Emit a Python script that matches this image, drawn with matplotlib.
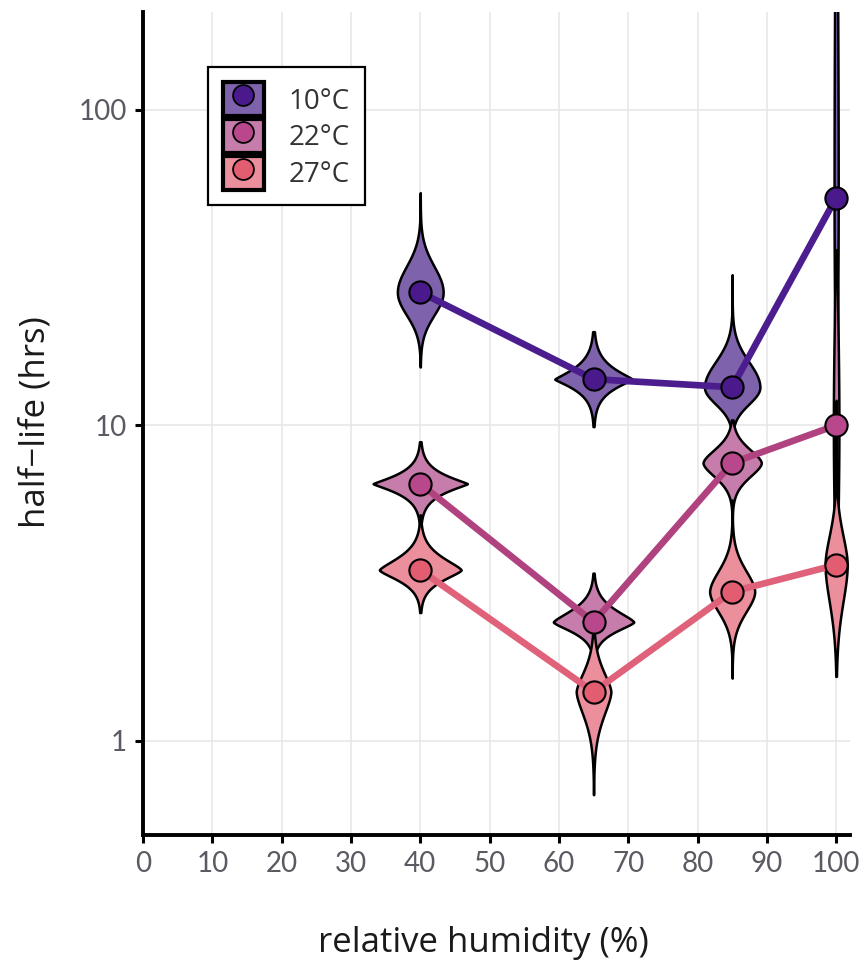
import numpy as np
import matplotlib
matplotlib.use("Agg")
import matplotlib.pyplot as plt
from matplotlib.patches import Patch
from matplotlib.lines import Line2D
from matplotlib.legend_handler import HandlerTuple

# ---------------- data ----------------
humidity = [40, 65, 85, 100]
temp_labels = ["10°C", "22°C", "27°C"]

# median half-life (hrs)
hl_10C = [26.4, 14.0, 13.2, 52.6]
hl_22C = [6.53, 2.38, 7.6, 10.0]
hl_27C = [3.48, 1.43, 2.97, 3.61]

# violin extent (lower / upper tip, hrs)
lo_10C = [15.3, 9.9, 9.0, 3.0]
hi_10C = [54.6, 19.8, 30.0, 1000.0]
lo_22C = [4.67, 1.72, 4.25, 1.94]
hi_22C = [8.87, 3.40, 10.4, 36.0]
lo_27C = [2.55, 0.675, 1.58, 1.6]
hi_27C = [5.2, 2.25, 5.8, 12.0]

# violin max half-width (x units), spread (decades) above / below, and profile exponent
w_10C = [3.3, 5.6, 4.0, 0.3]
w_22C = [6.8, 5.8, 4.2, 0.4]
w_27C = [5.9, 2.5, 3.25, 1.6]
sup_10C = [0.082, 0.028, 0.080, 0.8]
sdn_10C = [0.072, 0.025, 0.053, 0.45]
sup_22C = [0.023, 0.034, 0.043, 0.35]
sdn_22C = [0.023, 0.027, 0.044, 0.35]
sup_27C = [0.035, 0.061, 0.067, 0.095]
sdn_27C = [0.029, 0.074, 0.065, 0.12]
pw_10C = [2.0, 1.2, 2.0, 2.0]
pw_22C = [1.2, 1.4, 1.7, 2.0]
pw_27C = [1.4, 1.6, 1.8, 1.8]

x_ticks = [0, 10, 20, 30, 40, 50, 60, 70, 80, 90, 100]
y_ticks = [1, 10, 100]
y_ticklabels = ["1", "10", "100"]

# ---------------- style ----------------
line_colors = ["#4b1d8e", "#b0437f", "#e0627a"]
point_colors = ["#4a1a8c", "#b8478c", "#e35d71"]
fill_colors = ["#7e62ab", "#c67dab", "#eb8f9c"]

label_font = ["Open Sans", "DejaVu Sans"]
tick_font = ["Lato", "DejaVu Sans"]

fig = plt.figure(figsize=(8.66, 9.76), dpi=100)
ax = fig.add_axes([143 / 866, 1 - 835 / 976, (850 - 143) / 866, (835 - 12) / 976])
ax.set_yscale("log")
ax.set_xlim(0, 102)
ax.set_ylim(0.503, 204)

series = [
    (hl_10C, lo_10C, hi_10C, w_10C, sup_10C, sdn_10C, pw_10C),
    (hl_22C, lo_22C, hi_22C, w_22C, sup_22C, sdn_22C, pw_22C),
    (hl_27C, lo_27C, hi_27C, w_27C, sup_27C, sdn_27C, pw_27C),
]

# violins
for si, (med, lo, hi, W, su, sd, pw) in enumerate(series):
    for x0, m, l, h, w, a, b, p in zip(humidity, med, lo, hi, W, su, sd, pw):
        t = np.linspace(np.log10(l), np.log10(h), 800)
        d = t - np.log10(m)
        s = np.where(d > 0, a, b)
        half = w * np.exp(-0.5 * np.abs(d / s) ** p)
        ax.fill_betweenx(10 ** t, x0 - half, x0 + half, facecolor=fill_colors[si],
                         edgecolor="black", linewidth=1.8, zorder=3 + si * 0.1)

# lines
for si, ser in enumerate(series):
    ax.plot(humidity, ser[0], color=line_colors[si], lw=4.8, solid_capstyle="round", zorder=5)

# points
for si, ser in enumerate(series):
    ax.plot(humidity, ser[0], linestyle="none", marker="o", markersize=16,
            markerfacecolor=point_colors[si], markeredgecolor="black",
            markeredgewidth=1.5, zorder=6)

# axes styling
for sp in ["top", "right"]:
    ax.spines[sp].set_visible(False)
for sp in ["left", "bottom"]:
    ax.spines[sp].set_linewidth(2.8)
    ax.spines[sp].set_color("black")
ax.set_xticks(x_ticks)
ax.set_xticklabels([str(v) for v in x_ticks])
ax.set_yticks(y_ticks)
ax.set_yticklabels(y_ticklabels)
ax.yaxis.set_minor_locator(matplotlib.ticker.NullLocator())
ax.tick_params(axis="both", which="major", length=5.5, width=2.2, color="black",
               labelsize=20, labelcolor="#5a5a62", pad=6)
for lab in ax.get_xticklabels() + ax.get_yticklabels():
    lab.set_family(tick_font)
ax.grid(True, which="major", color="#e6e6e6", lw=1.1, zorder=0)
ax.set_axisbelow(True)

ax.set_xlabel("relative humidity (%)", fontsize=25, family=label_font, color="#1a1a1a")
ax.set_ylabel("half\u2212life (hrs)", fontsize=25, family=label_font, color="#1a1a1a")
ax.xaxis.set_label_coords(0.481, -0.11)
ax.yaxis.set_label_coords(-0.128, 0.502)

# legend
handles = []
for si in range(3):
    handles.append((Patch(facecolor=fill_colors[si], edgecolor="black", linewidth=3),
                    Line2D([], [], linestyle="none", marker="o", markersize=15,
                           markerfacecolor=point_colors[si], markeredgecolor="black",
                           markeredgewidth=1.3)))
leg = ax.legend(handles, temp_labels, loc="upper left", bbox_to_anchor=(0.092, 0.933),
                borderaxespad=0, handler_map={tuple: HandlerTuple(ndivide=1)},
                handlelength=1.45, handleheight=1.5, labelspacing=0.1,
                handletextpad=0.9, borderpad=0.55, fancybox=False, framealpha=1,
                edgecolor="black", prop={"family": label_font, "size": 20})
leg.get_frame().set_linewidth(1.6)
for txt in leg.get_texts():
    txt.set_color("#333333")
leg.set_zorder(10)

fig.savefig("out.png", dpi=100, facecolor="white")
